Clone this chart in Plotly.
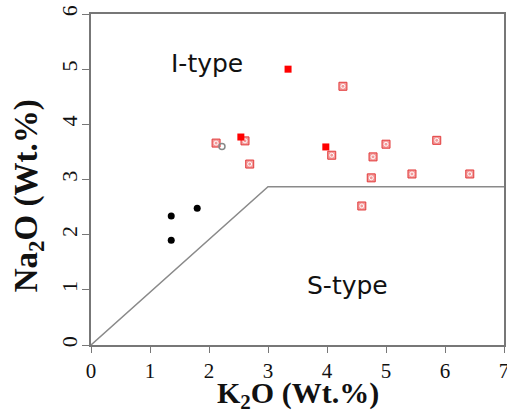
import plotly.graph_objects as go

# K2O vs Na2O discrimination diagram (I-type / S-type granites)
boundary_k2o = [0, 3.0, 7.0]
boundary_na2o = [0, 2.87, 2.87]

# Sample groups
filled_k2o = [3.34, 2.54, 3.98]
filled_na2o = [5.0, 3.77, 3.59]

boxed_k2o = [4.27, 2.12, 2.61, 2.69, 4.08, 4.78, 5.0, 4.75, 4.59, 5.44, 5.86, 6.42]
boxed_na2o = [4.69, 3.66, 3.70, 3.28, 3.44, 3.41, 3.64, 3.03, 2.52, 3.10, 3.71, 3.10]

open_k2o = [2.22]
open_na2o = [3.60]

black_k2o = [1.36, 1.36, 1.80]
black_na2o = [2.34, 1.90, 2.48]

x_ticks = [0, 1, 2, 3, 4, 5, 6, 7]
y_ticks = [0, 1, 2, 3, 4, 5, 6]

fig = go.Figure()

fig.add_trace(go.Scatter(x=boundary_k2o, y=boundary_na2o, mode="lines",
                         line=dict(color="#8a8a8a", width=1.5), hoverinfo="skip"))

fig.add_trace(go.Scatter(x=boxed_k2o, y=boxed_na2o, mode="markers",
                         marker=dict(symbol="square", size=8, color="#f39a9a",
                                     line=dict(color="#e23b3b", width=1))))
fig.add_trace(go.Scatter(x=boxed_k2o, y=boxed_na2o, mode="markers",
                         marker=dict(symbol="circle-open", size=4, color="white",
                                     line=dict(color="white", width=1)), hoverinfo="skip"))

fig.add_trace(go.Scatter(x=filled_k2o, y=filled_na2o, mode="markers",
                         marker=dict(symbol="square", size=7, color="#ff0000",
                                     line=dict(width=0))))

fig.add_trace(go.Scatter(x=open_k2o, y=open_na2o, mode="markers",
                         marker=dict(symbol="circle-open", size=6, color="#888888",
                                     line=dict(color="#888888", width=1.5))))

fig.add_trace(go.Scatter(x=black_k2o, y=black_na2o, mode="markers",
                         marker=dict(symbol="circle", size=7, color="black")))

sans = "DejaVu Sans, Arial, sans-serif"
serif = "Liberation Serif, Times New Roman, serif"

fig.add_annotation(x=1.97, y=5.1, text="I-type", showarrow=False,
                   font=dict(family=sans, size=25, color="#111"))
fig.add_annotation(x=4.34, y=1.08, text="S-type", showarrow=False,
                   font=dict(family=sans, size=25, color="#111"))

# Axis titles
fig.add_annotation(xref="paper", yref="paper", x=0.5, y=-0.152,
                   xanchor="center", yanchor="middle", showarrow=False,
                   text="<b>K<sub>2</sub>O (Wt.%)</b>",
                   font=dict(family=serif, size=30, color="#111"))
fig.add_annotation(xref="paper", yref="paper", x=-0.152, y=0.45,
                   xanchor="center", yanchor="middle", showarrow=False,
                   textangle=-90, text="<b>Na<sub>2</sub>O (Wt.%)</b>",
                   font=dict(family=serif, size=33, color="#111"))

fig.update_layout(
    width=507, height=412,
    margin=dict(l=91, r=3, t=14, b=67),
    paper_bgcolor="white", plot_bgcolor="white",
    showlegend=False,
    xaxis=dict(range=[0, 7], tickvals=x_ticks, showgrid=False, zeroline=False,
               showline=True, mirror=True, linecolor="#777777", linewidth=1.5,
               ticks="outside", ticklen=6, tickcolor="#777777", automargin=False,
               ticklabeloverflow="allow",
               tickfont=dict(family=serif, size=21, color="#111")),
    yaxis=dict(range=[0, 6], tickvals=y_ticks, showgrid=False, zeroline=False,
               showline=True, mirror=True, linecolor="#777777", linewidth=1.5,
               ticks="outside", ticklen=7, tickcolor="#777777", tickangle=-90,
               automargin=False, ticklabelstandoff=-4, ticklabeloverflow="allow",
               tickfont=dict(family=serif, size=22, color="#111")),
)

fig.write_html("out.html")
